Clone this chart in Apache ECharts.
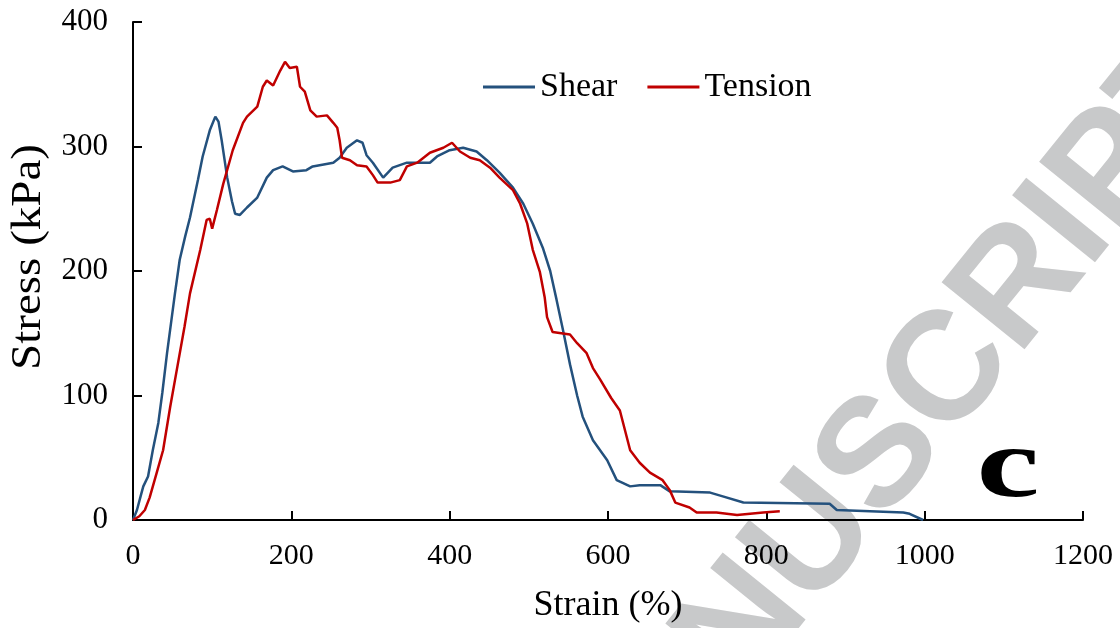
<!DOCTYPE html>
<html>
<head>
<meta charset="utf-8">
<script src="https://cdn.jsdelivr.net/npm/echarts@6/dist/echarts.min.js"></script>
<style>
html,body{margin:0;padding:0;background:#fff;}
#chart{width:1120px;height:628px;}
</style>
</head>
<body>
<div id="chart"></div>
<script>
// Axis ticks
const xTicks = [0, 200, 400, 600, 800, 1000, 1200];
const yTicks = [0, 100, 200, 300, 400];

// Shear series (strain %, stress kPa)
const shearStrain = [0,5,10,13,19,25,32,37,43,53,59,66,72,82,88,97,104,108,112,119,125,129,135,144,157,169,177,189,202,219,227,253,261,270,283,290,295,303,316,328,346,375,384,400,417,434,447,463,480,493,505,518,527,535,543,552,561,568,581,599,611,628,640,666,678,729,745,771,880,889,973,981,998];
const shearStress = [0,8,20,27,35,56,78,102,134,182,209,228,243,273,292,313,324,320,305,275,256,246,245,251,259,275,281,284,280,281,284,287,291,299,305,303,293,287,275,283,287,287,292,297,299,296,289,279,267,254,238,218,200,177,153,125,100,83,64,48,32,27,28,28,23,22,19,14,13,8,6,5,0];

// Tension series (strain %, stress kPa)
const tensionStrain = [0,8,15,21,30,38,47,56,65,72,85,93,97,100,106,114,126,139,144,157,164,169,177,186,192,198,207,211,217,224,232,245,253,258,261,264,274,283,295,303,309,325,337,346,359,375,392,403,413,426,438,451,463,480,489,498,505,514,520,523,530,552,561,573,581,590,604,615,628,640,653,669,678,685,703,712,737,763,796,817];
const tensionStress = [0,3,8,18,38,56,91,123,155,182,217,241,242,234,249,270,297,319,324,332,348,353,349,361,368,363,364,348,344,329,324,325,319,315,305,291,289,285,284,277,271,271,273,284,287,295,299,303,296,291,289,283,275,265,254,238,217,199,179,163,151,149,142,134,122,113,98,88,56,46,38,32,24,14,10,6,6,4,6,7];

const seriesNames = ['Shear', 'Tension'];
const xName = 'Strain (%)';
const yName = 'Stress (kPa)';
const panelLabel = 'c';
const watermark = 'ACCEPTED MANUSCRIPT';

function pairs(xs, ys){ return xs.map((x,i)=>[x, ys[i]]); }

const chart = echarts.init(document.getElementById('chart'), null, {renderer:'canvas'});
const serif = "'Liberation Serif', 'Times New Roman', serif";

chart.setOption({
  backgroundColor: '#ffffff',
  animation: false,
  grid: {left: 133, right: 37, top: 22, bottom: 108, outerBoundsMode: 'none', containLabel: false},
  legend: {
    left: 478, top: 65,
    itemWidth: 52, itemHeight: 3, itemGap: 30,
    textStyle: {fontFamily: serif, fontSize: 34, color: '#000'},
    data: seriesNames.map(n=>({name:n, icon:'rect'}))
  },
  xAxis: {
    type: 'value', min: 0, max: 1200, interval: 200,
    name: xName, nameLocation: 'middle', nameGap: 68,
    nameTextStyle: {fontFamily: serif, fontSize: 36, color: '#000'},
    axisLine: {show: true, onZero: false, lineStyle: {color: '#000', width: 2}},
    axisTick: {show: true, inside: true, length: 9, lineStyle: {color: '#000', width: 2}},
    axisLabel: {fontFamily: serif, fontSize: 30, color: '#000', margin: 21,
      formatter: v => xTicks.includes(v) ? String(v) : ''},
    splitLine: {show: false}
  },
  yAxis: {
    type: 'value', min: 0, max: 400, interval: 100,
    axisLine: {show: true, lineStyle: {color: '#000', width: 2}},
    axisTick: {show: true, inside: true, length: 9, lineStyle: {color: '#000', width: 2}},
    axisLabel: {fontFamily: serif, fontSize: 31, color: '#000', margin: 25,
      formatter: v => yTicks.includes(v) ? String(v) : ''},
    splitLine: {show: false}
  },
  graphic: {elements: [
    {
      type: 'text', z: 0, zlevel: 0, silent: true,
      x: 1207, y: 56, rotation: 51 * Math.PI / 180,
      style: {text: watermark, fill: '#c8c9ca', font: "bold 155px 'Liberation Sans', Arial, sans-serif",
        textAlign: 'right', textVerticalAlign: 'middle'}
    },
    {
      type: 'text', z: 100, silent: true,
      x: 29, y: 257, rotation: Math.PI / 2, scaleX: 1.12,
      style: {text: yName, fill: '#000', font: "42px 'Liberation Serif', 'Times New Roman', serif",
        textAlign: 'center', textVerticalAlign: 'middle'}
    },
    {
      type: 'text', z: 100, silent: true,
      x: 1008, y: 470, scaleX: 1.42,
      style: {text: panelLabel, fill: '#000', font: "bold 100px 'Liberation Serif', 'Times New Roman', serif",
        textAlign: 'center', textVerticalAlign: 'middle'}
    }
  ]},
  series: [
    {name: seriesNames[0], type: 'line', symbol: 'none', z: 5,
     data: pairs(shearStrain, shearStress),
     itemStyle: {color: '#24517D'},
     lineStyle: {color: '#24517D', width: 2.5}},
    {name: seriesNames[1], type: 'line', symbol: 'none', z: 6,
     data: pairs(tensionStrain, tensionStress),
     itemStyle: {color: '#C00000'},
     lineStyle: {color: '#C00000', width: 2.5}}
  ]
});
</script>
</body>
</html>
